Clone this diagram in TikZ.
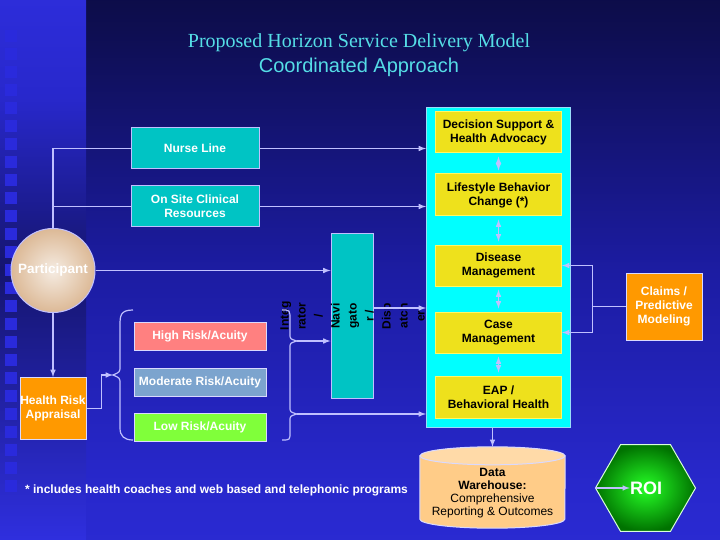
\documentclass[tikz,border=0pt]{standalone}
\usepackage{fontspec}
\setmainfont{Liberation Sans}
\newfontfamily\ttlserif{Liberation Serif}
\usetikzlibrary{shapes.geometric}
\definecolor{bgtop}{HTML}{000004}
\definecolor{bghigh}{HTML}{0E0E52}
\definecolor{bgmid}{HTML}{1C1CA2}
\definecolor{bglow}{HTML}{2828CC}
\definecolor{bgbot}{HTML}{3232EC}
\definecolor{striptop}{HTML}{3A3AFF}
\definecolor{stripmid}{HTML}{15156E}
\definecolor{stripsq}{HTML}{2A2ADC}
\definecolor{lineblue}{HTML}{C0C0FF}
\definecolor{ttlcyan}{HTML}{55DDE6}
\definecolor{tealbox}{HTML}{00C4C4}
\definecolor{hubcyan}{HTML}{00FFFF}
\definecolor{boxyellow}{HTML}{EEE11C}
\definecolor{riskhigh}{HTML}{FF8080}
\definecolor{riskmod}{HTML}{7CA4CE}
\definecolor{risklow}{HTML}{80FF3A}
\definecolor{boxorange}{HTML}{FF9900}
\definecolor{warebody}{HTML}{FFCC88}
\definecolor{wareend}{HTML}{FFDAA8}
\pgfdeclareverticalshading{slidebg}{100bp}{color(0bp)=(bgbot); color(30bp)=(bglow); color(50bp)=(bgmid); color(72bp)=(bghigh); color(100bp)=(bgtop)}
\pgfdeclareverticalshading{stripbg}{100bp}{color(0bp)=(bgbot); color(22bp)=(bgbot); color(50bp)=(stripmid); color(66bp)=(bglow); color(100bp)=(striptop)}
\begin{document}
\begin{tikzpicture}[x=1pt,y=-1pt,
  txt/.style={font=\fontsize{12}{14}\selectfont\bfseries,align=center,inner sep=0pt},
  conn/.style={draw=lineblue,line width=1.5pt},
  brace/.style={draw=lineblue,line width=1.2pt},
  tealrect/.style={txt,text=white,fill=tealbox,draw=lineblue,line width=1pt,minimum width=128,minimum height=41},
  yrect/.style={txt,fill=boxyellow,draw=yellow!60!white,line width=1pt,minimum width=126,minimum height=41},
  riskrect/.style={txt,text=white,draw=white!85!blue,line width=1pt,minimum width=132,minimum height=28},
  orect/.style={txt,text=white,fill=boxorange,draw=white!85!blue,line width=1pt},
  wareline/.style={draw=white!85!blue,line width=1pt}]
\useasboundingbox (0,0) rectangle (720,540);
\shade[shading=slidebg] (0,0) rectangle (720,540);
\shade[shading=stripbg] (0,0) rectangle (86,540);
\foreach\i in {0,...,25} {
  \fill[stripsq] (5,30+\i*18) rectangle +(12,12);
}
\node[font=\fontsize{20}{22}\selectfont,text=ttlcyan] (ttlone) at (359,43) {\ttlserif Proposed Horizon Service Delivery Model};
\node[font=\fontsize{20}{22}\selectfont,text=ttlcyan] (ttltwo) at (359,67) {Coordinated Approach};
\node[tealrect] (nurse) at (195,148.5) {Nurse Line};
\node[tealrect] (onsite) at (195,206.5) {On Site Clinical\\Resources};
\node[fill=hubcyan,draw=cyan!40!white,line width=1pt,minimum width=144,minimum height=319] (hub) at (498.5,267.5) {};
\node[yrect] (decision) at (498.5,132.5) {Decision Support \&\\Health Advocacy};
\node[yrect,minimum height=42] (lifestyle) at (498.5,195) {Lifestyle Behavior\\Change (*)};
\node[yrect] (disease) at (498.5,265.5) {Disease\\Management};
\node[yrect] (case) at (498.5,332.5) {Case\\Management};
\node[yrect,minimum height=42] (eap) at (498.5,397) {EAP /\\Behavioral Health};
\foreach\a/\b in {decision/lifestyle,lifestyle/disease,disease/case,case/eap} {
  \draw[conn,latex-latex,shorten <=3pt,shorten >=3pt] (\a.south) -- (\b.north);
}
\node[circle,minimum size=84,draw=lineblue,line width=1pt,inner color=white!85!brown,outer color=brown!55!white,txt,text=white,font=\fontsize{13.5}{15}\selectfont\bfseries] (participant) at (53,270.5) {Participant};
\node[orect,minimum width=66,minimum height=62] (hra) at (53,408.5) {Health Risk\\Appraisal};
\node[riskrect,fill=riskhigh] (high) at (200,336) {High Risk/Acuity};
\node[riskrect,fill=riskmod] (moderate) at (200,382) {Moderate Risk/Acuity};
\node[riskrect,fill=risklow] (low) at (200,427) {Low Risk/Acuity};
\node[fill=tealbox,draw=lineblue,line width=1pt,minimum width=42,minimum height=165] (nav) at (352,315.5) {};
\node[txt,rotate=90,font=\fontsize{12}{17}\selectfont\bfseries] (navtext) at (352.5,316) {Integ\\rator\\/\\Navi\\gato\\r /\\Disp\\atch\\er};
\node[orect,minimum width=76,minimum height=67] (claims) at (664,306.5) {Claims /\\Predictive\\Modeling};
% data warehouse drum
\node[minimum width=145,minimum height=81,inner sep=0pt] (warehouse) at (492.5,487.5) {};
\filldraw[wareline,fill=warebody] ([yshift=-9pt]warehouse.north west) -- ([yshift=9pt]warehouse.south west) arc[start angle=180,end angle=360,x radius=72.5pt,y radius=9pt] -- ([yshift=-9pt]warehouse.north east) -- cycle;
\filldraw[wareline,fill=wareend] ([yshift=-9pt]warehouse.north) ellipse[x radius=72.5pt,y radius=9pt];
\node[align=center,font=\fontsize{12}{13}\selectfont,inner sep=0pt] (waretext) at (492.5,493) {\textbf{Data}\\\textbf{Warehouse:}\\Comprehensive\\Reporting \& Outcomes};
\node[regular polygon,regular polygon sides=6,minimum size=100,draw=white!85!green,line width=1pt,inner color=green!85!white,outer color=green!45!black] (roi) at (645.5,488) {};
\node[txt,text=white,font=\fontsize{18}{20}\selectfont\bfseries] (roitext) at (646,488) {ROI};
\node[txt,text=white,font=\fontsize{12}{14}\selectfont\bfseries] (note) at (216.5,490) {* includes health coaches and web based and telephonic programs};
% braces round the risk levels
\coordinate (lbrace) at (113,375);
\coordinate (rtipone) at (297,341);
\coordinate (rtiptwo) at (297,414);
\draw[brace] (133,310) .. controls (120,310) and (120,316) .. (120,326) -- (120,366) .. controls (120,372) .. (lbrace) .. controls (120,378) .. (120,384) -- (120,428) .. controls (120,436) and (124,440) .. (133,440);
\draw[brace] (282,310) .. controls (290,310) .. (290,320) -- (290,334) .. controls (290,339) .. (rtipone) .. controls (290,343) .. (290,348) -- (290,407) .. controls (290,412) .. (rtiptwo) .. controls (290,416) .. (290,421) -- (290,432) .. controls (290,440) .. (282,440);
% connectors
\draw[conn] (participant.north) |- (nurse.west);
\draw[conn] (participant.north |- onsite.west) -- (onsite.west);
\draw[conn,-latex] (nurse.east) -- (nurse.east -| hub.west);
\draw[conn,-latex] (onsite.east) -- (onsite.east -| hub.west);
\draw[conn,-latex] (participant.east) -- (participant.east -| nav.west);
\draw[conn,-latex] (participant.south) -- (hra.north);
\draw[conn,-latex] (hra.east) -- ++(15,0) |- (lbrace);
\draw[conn,-latex] (rtipone) -- (rtipone -| nav.west);
\draw[conn,-latex] (rtiptwo) -- (rtiptwo -| hub.west);
\coordinate (navout) at ([yshift=7.5pt]nav.east);
\draw[conn,-latex] (navout) -- (navout -| hub.west);
\coordinate (split) at ([xshift=-33pt]claims.west);
\draw[conn] (claims.west) -- (split);
\draw[conn,-latex] (split) |- (disease.east);
\draw[conn,-latex] (split) |- (case.east);
\draw[conn,-latex] (warehouse.north |- hub.south) -- (warehouse.north);
\draw[conn,-latex] (roi.west) -- (roitext.west);
\end{tikzpicture}
\end{document}
